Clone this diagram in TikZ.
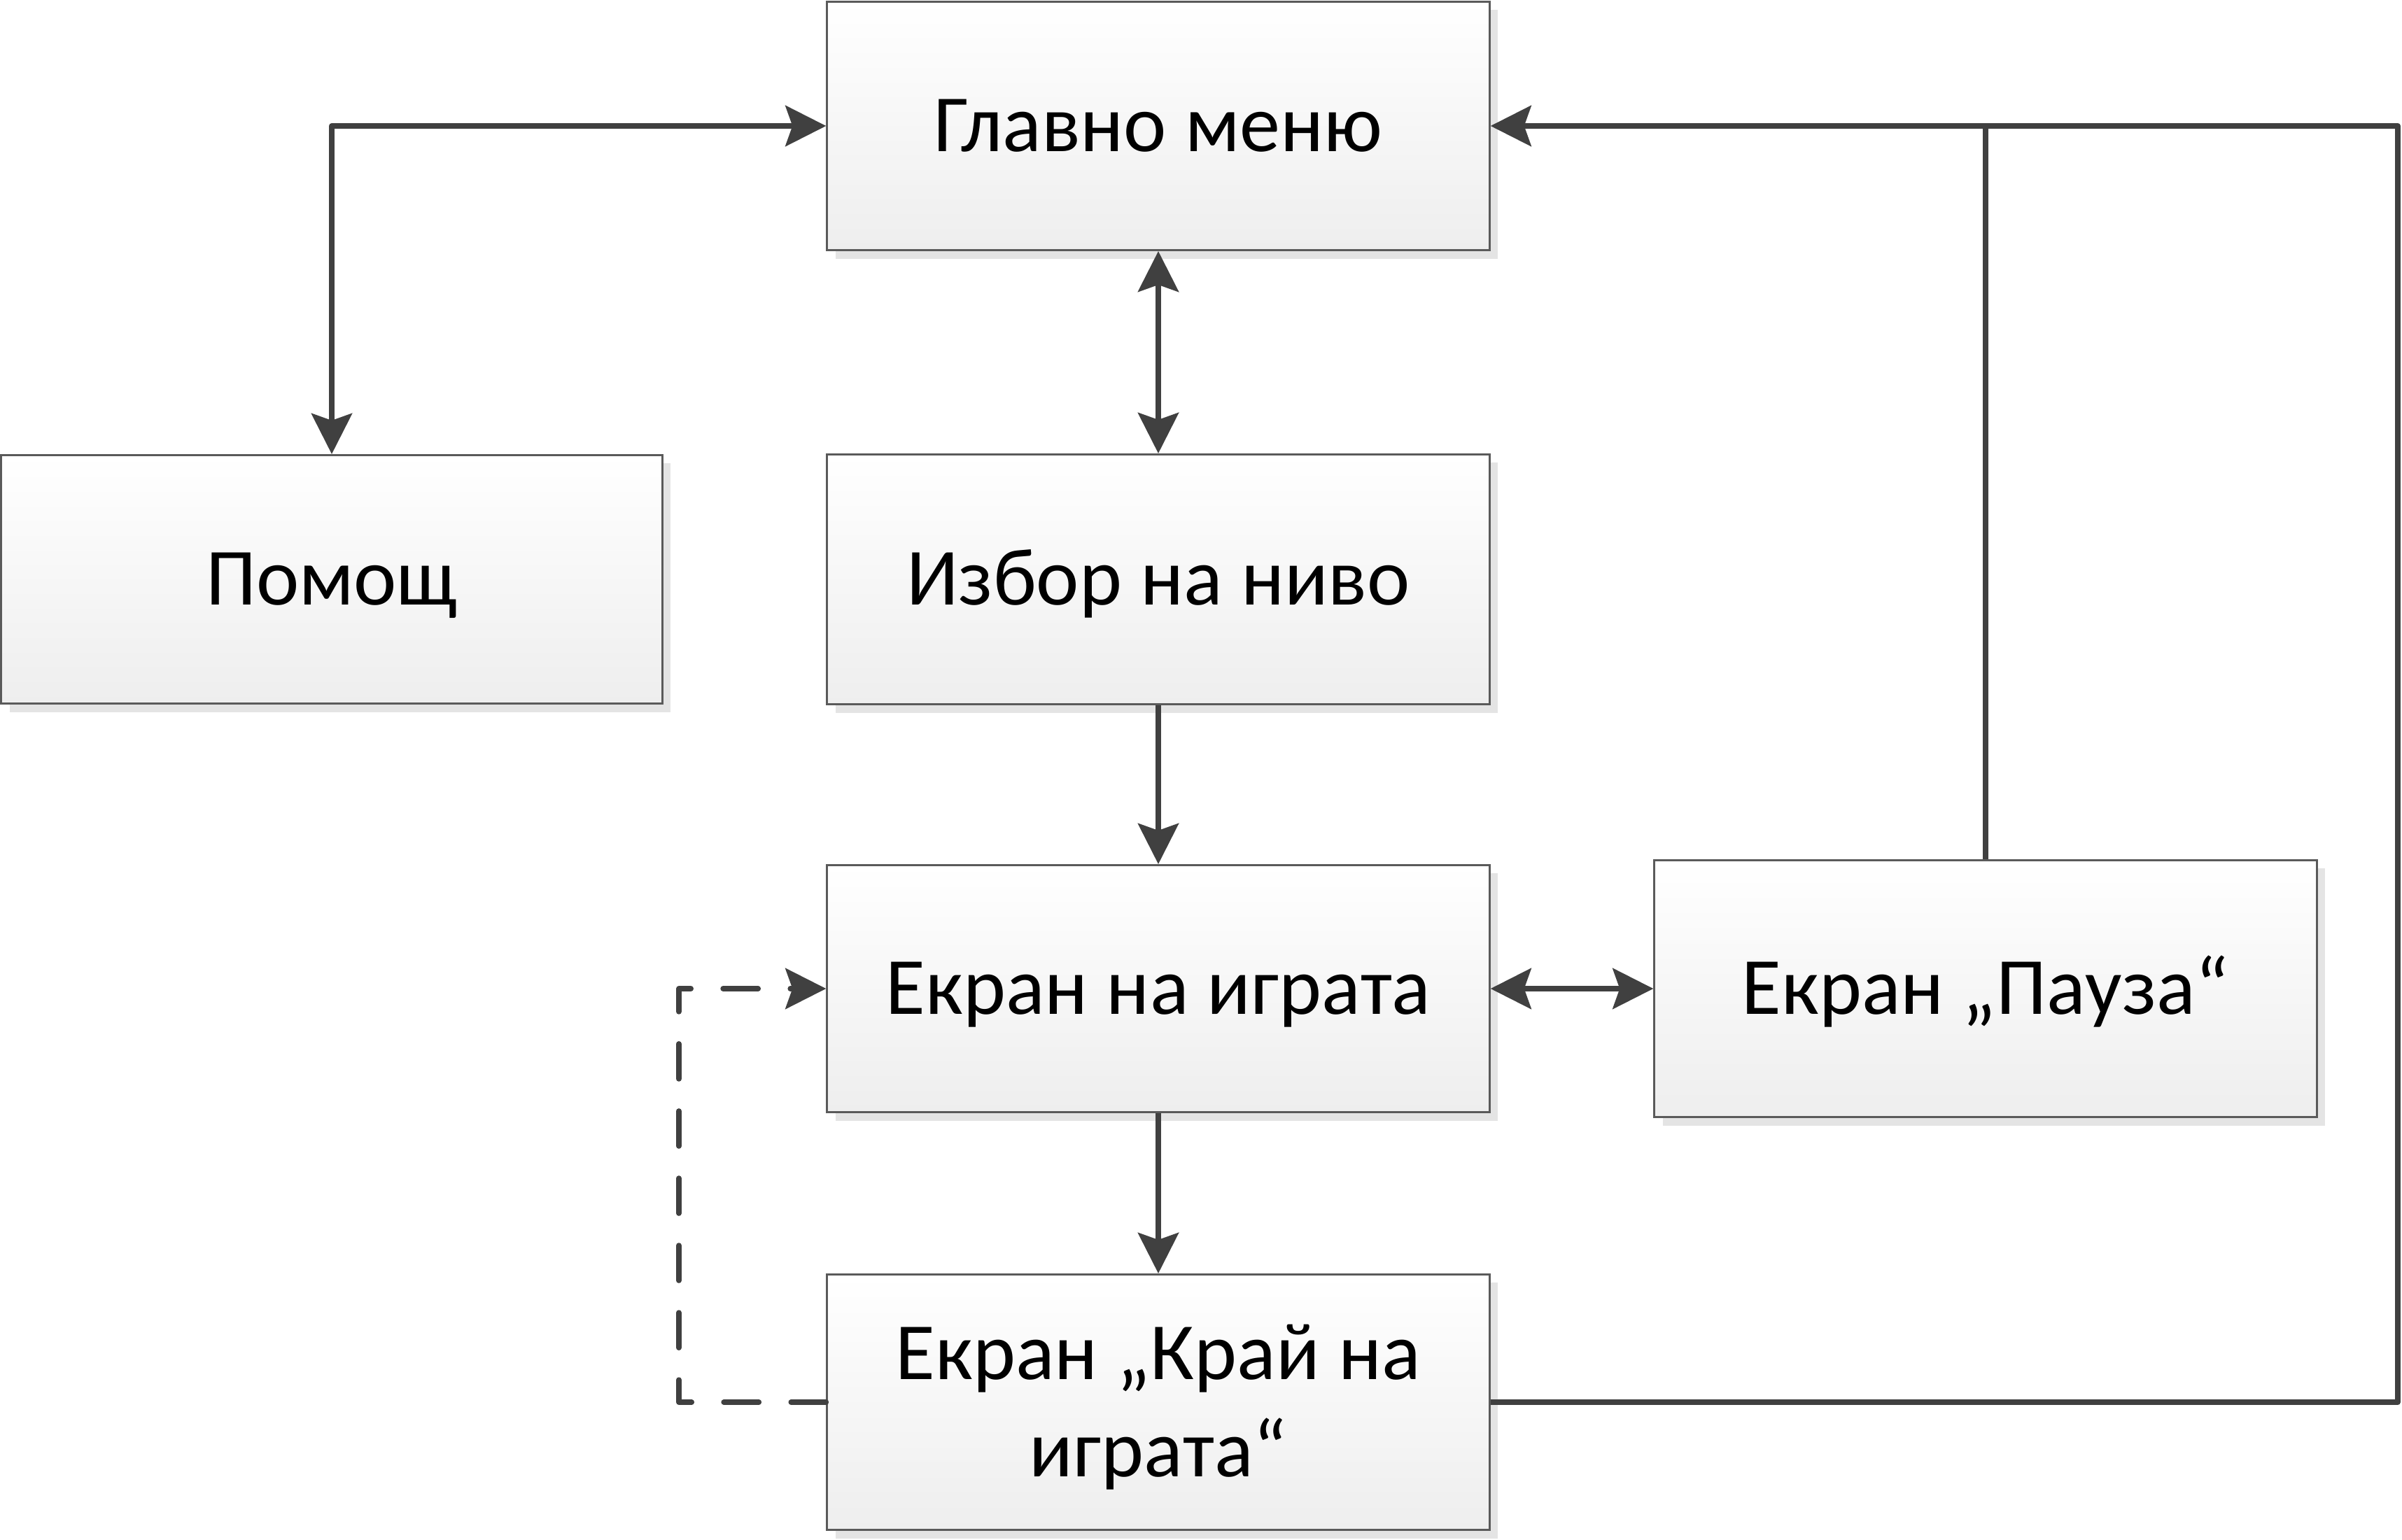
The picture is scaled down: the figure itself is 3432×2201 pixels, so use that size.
\documentclass[tikz,border=0pt]{standalone}
\usepackage{fontspec}
\setmainfont{Carlito}
\usetikzlibrary{arrows.meta,shadows}

\definecolor{linegray}{HTML}{404040}
\definecolor{framegray}{HTML}{5A5A5A}
\definecolor{shadowgray}{HTML}{E4E4E4}
\definecolor{fillbottom}{HTML}{EEEEEE}

\tikzset{
  screen/.style={
    draw=framegray, line width=0.8pt, rectangle,
    top color=white, bottom color=fillbottom,
    minimum width=9.46cm, align=center, inner sep=0pt,
    font=\fontsize{33}{39.5}\selectfont,
    text height=24.2pt, text depth=3.3pt,
    general shadow={fill=shadowgray, shadow xshift=0.12cm, shadow yshift=-0.12cm}
  },
  twolines/.style={text height=63.7pt},
  conn/.style={draw=linegray, line width=0.077cm, line join=round},
  vtip/.tip={Stealth[length=0.58cm, width=0.58cm, inset=0.1cm]},
  dashconn/.style={conn, line cap=round, dash pattern=on 0.5cm off 0.46cm}
}

\begin{document}
\begin{tikzpicture}[x=0.01cm, y=-0.01cm]
  \useasboundingbox (0,0) rectangle (3432,2201);

  % screens
  \node[screen, minimum height=3.55cm] (menu) at (1655,180) {Главно меню};
  \node[screen, minimum height=3.55cm, minimum width=9.44cm] (help) at (474,828) {Помощ};
  \node[screen, minimum height=3.57cm] (level) at (1655,828) {Избор на ниво};
  \node[screen, minimum height=3.53cm] (game) at (1655,1413) {Екран на играта};
  \node[screen, minimum height=3.67cm] (pause) at (2837,1413) {Екран „Пауза“};
  \node[screen, twolines, minimum height=3.65cm] (over) at (1655,2004) {Екран „Край на\\играта“};

  % corner points of the return paths
  \coordinate (loopR) at (3426,180);
  \coordinate (dashL) at (970,1413);

  % transitions
  \draw[conn, vtip-vtip] (help.north) |- (menu.west);
  \draw[conn, vtip-vtip] (menu.south) -- (level.north);
  \draw[conn, -vtip] (level.south) -- (game.north);
  \draw[conn, vtip-vtip] (game.east) -- (pause.west);
  \draw[conn, -vtip] (game.south) -- (over.north);
  \draw[conn, -vtip] (over.east) -| (loopR) -- (menu.east);
  \draw[conn] (pause.north) -- (pause.north |- menu.east);
  \draw[dashconn, -vtip] (over.west) -| (dashL) -- (game.west);
\end{tikzpicture}
\end{document}
